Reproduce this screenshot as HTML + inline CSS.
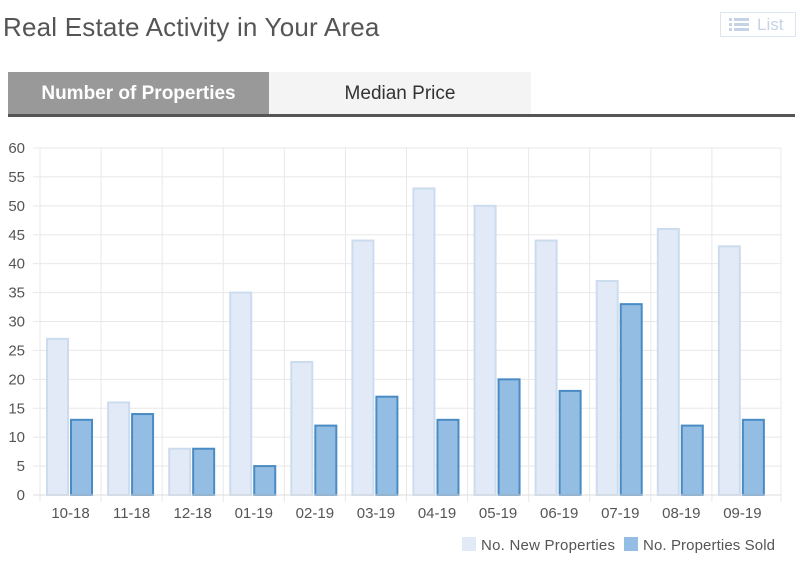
<!DOCTYPE html>
<html><head><style>
body{margin:0;width:800px;height:565px;background:#fff;font-family:"Liberation Sans",sans-serif;overflow:hidden;position:relative}
.t{position:absolute;left:3px;top:12px;font-size:26px;color:#555;letter-spacing:0.2px}
.list{position:absolute;left:720px;top:12px;width:76px;height:25px;border:1px solid #dde6f0;color:#c5d3e6;font-size:17px;box-sizing:border-box}
.tab1{position:absolute;left:8px;top:72px;width:261px;height:43px;background:#999;color:#fff;font-weight:bold;font-size:19px;line-height:43px;text-align:center}
.tab2{position:absolute;left:269px;top:72px;width:262px;height:43px;background:#f4f4f4;color:#333;font-size:19px;line-height:43px;text-align:center}
.ul{position:absolute;left:8px;top:114px;width:787px;height:3px;background:#555}
</style></head><body>
<div class="t">Real Estate Activity in Your Area</div>
<div class="list"><svg width="22" height="16" style="position:absolute;left:8px;top:4px"><g fill="#c5d3e6"><rect x="0" y="1" width="3" height="3"/><rect x="5" y="1" width="15" height="3"/><rect x="0" y="6" width="3" height="3"/><rect x="5" y="6" width="15" height="3"/><rect x="0" y="11" width="3" height="3"/><rect x="5" y="11" width="15" height="3"/></g></svg><span style="position:absolute;left:36px;top:2px">List</span></div>
<div class="tab1">Number of Properties</div>
<div class="tab2">Median Price</div>
<div class="ul"></div>
<svg width="800" height="565" style="position:absolute;left:0;top:0" font-family="Liberation Sans" font-size="15" fill="#555">
<g id="g"></g>
</svg>
<script>
var s=document.querySelector('#g'),h='';
var y0=495,k=347/60,x0=40,cw=61.08;
for(var v=0;v<=60;v+=5){var y=y0-v*k;h+='<line x1="33" x2="781" y1="'+y+'" y2="'+y+'" stroke="#e8e8e8"/>';h+='<text x="25" y="'+(y+5)+'" text-anchor="end" fill="#555">'+v+'</text>';}
for(var i=0;i<12;i++){var x=x0+i*cw;h+='<line x1="'+x+'" x2="'+x+'" y1="148" y2="502" stroke="#e8e8e8"/>';}
h+='<line x1="781" x2="781" y1="148" y2="502" stroke="#e8e8e8"/>';
var n=[27,16,8,35,23,44,53,50,44,37,46,43],d=[13,14,8,5,12,17,13,20,18,33,12,13];
var L=['10-18','11-18','12-18','01-19','02-19','03-19','04-19','05-19','06-19','07-19','08-19','09-19'];
for(var i=0;i<12;i++){var cx=x0+i*cw;
var y=y0-n[i]*k;h+='<rect x="'+(cx+7)+'" y="'+y+'" width="21" height="'+(y0-y)+'" fill="#e1eaf6" stroke="#ccdcef" stroke-width="2"/>';
y=y0-d[i]*k;h+='<rect x="'+(cx+31)+'" y="'+y+'" width="21" height="'+(y0-y)+'" fill="#93bde2" stroke="#4a8bc4" stroke-width="2"/>';
h+='<text x="'+(cx+cw/2)+'" y="518" text-anchor="middle">'+L[i]+'</text>';}
h+='<line x1="33" x2="781" y1="495" y2="495" stroke="#ddd"/>';
h+='<rect x="462" y="537" width="14" height="14" fill="#e1eaf6"/><text x="481" y="550" textLength="134">No. New Properties</text>';
h+='<rect x="624" y="537" width="14" height="14" fill="#93bde2"/><text x="643" y="550" textLength="132">No. Properties Sold</text>';
s.innerHTML=h;
</script>
</body></html>
